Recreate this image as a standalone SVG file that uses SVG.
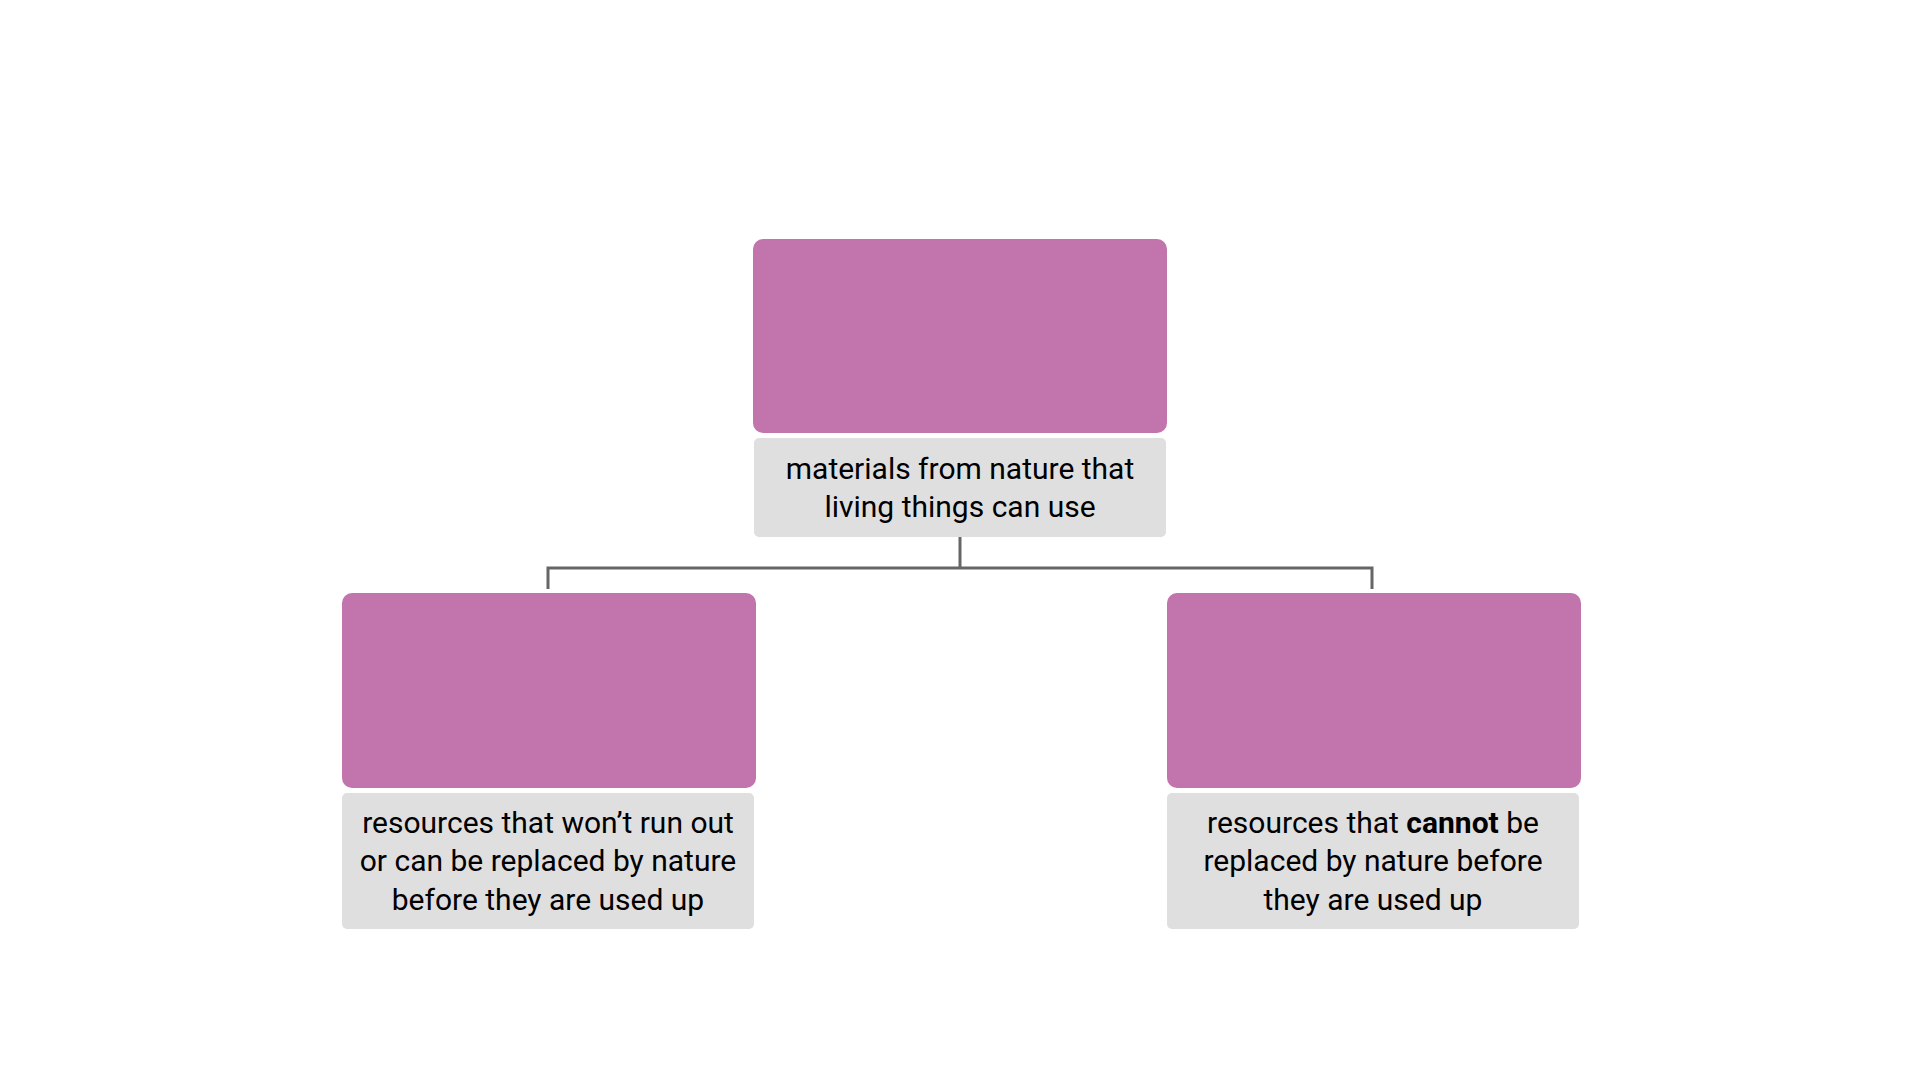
<svg xmlns="http://www.w3.org/2000/svg" width="1920" height="1080" viewBox="0 0 1920 1080">
<style>
.pink{fill:#C274AD}
.lbl{fill:#E0DFE0}
.t{font-family:Roboto,"Liberation Sans",sans-serif;font-size:30px;fill:#000;text-anchor:middle}
.b{font-weight:bold}
.conn{fill:none;stroke:#666666;stroke-width:3}
</style>
<rect width="1920" height="1080" fill="#fff"/>
<g id="connectors">
<path class="conn" d="M960 537 V568 M548 589 V568 H1372 V589"/>
</g>
<g id="node-top">
<rect class="pink" x="753" y="239" width="414" height="194" rx="10"/>
<rect class="lbl" x="754" y="438" width="412" height="99" rx="5"/>
<text class="t" x="960" y="479">materials from nature that</text>
<text class="t" x="960" y="517">living things can use</text>
</g>
<g id="node-left">
<rect class="pink" x="342" y="593" width="414" height="195" rx="10"/>
<rect class="lbl" x="342" y="793" width="412" height="136" rx="5"/>
<text class="t" x="548" y="833">resources that won’t run out</text>
<text class="t" x="548" y="871">or can be replaced by nature</text>
<text class="t" x="548" y="910">before they are used up</text>
</g>
<g id="node-right">
<rect class="pink" x="1167" y="593" width="414" height="195" rx="10"/>
<rect class="lbl" x="1167" y="793" width="412" height="136" rx="5"/>
<text class="t" x="1373" y="833">resources that <tspan class="b">cannot</tspan> be</text>
<text class="t" x="1373" y="871">replaced by nature before</text>
<text class="t" x="1373" y="910">they are used up</text>
</g>
</svg>
